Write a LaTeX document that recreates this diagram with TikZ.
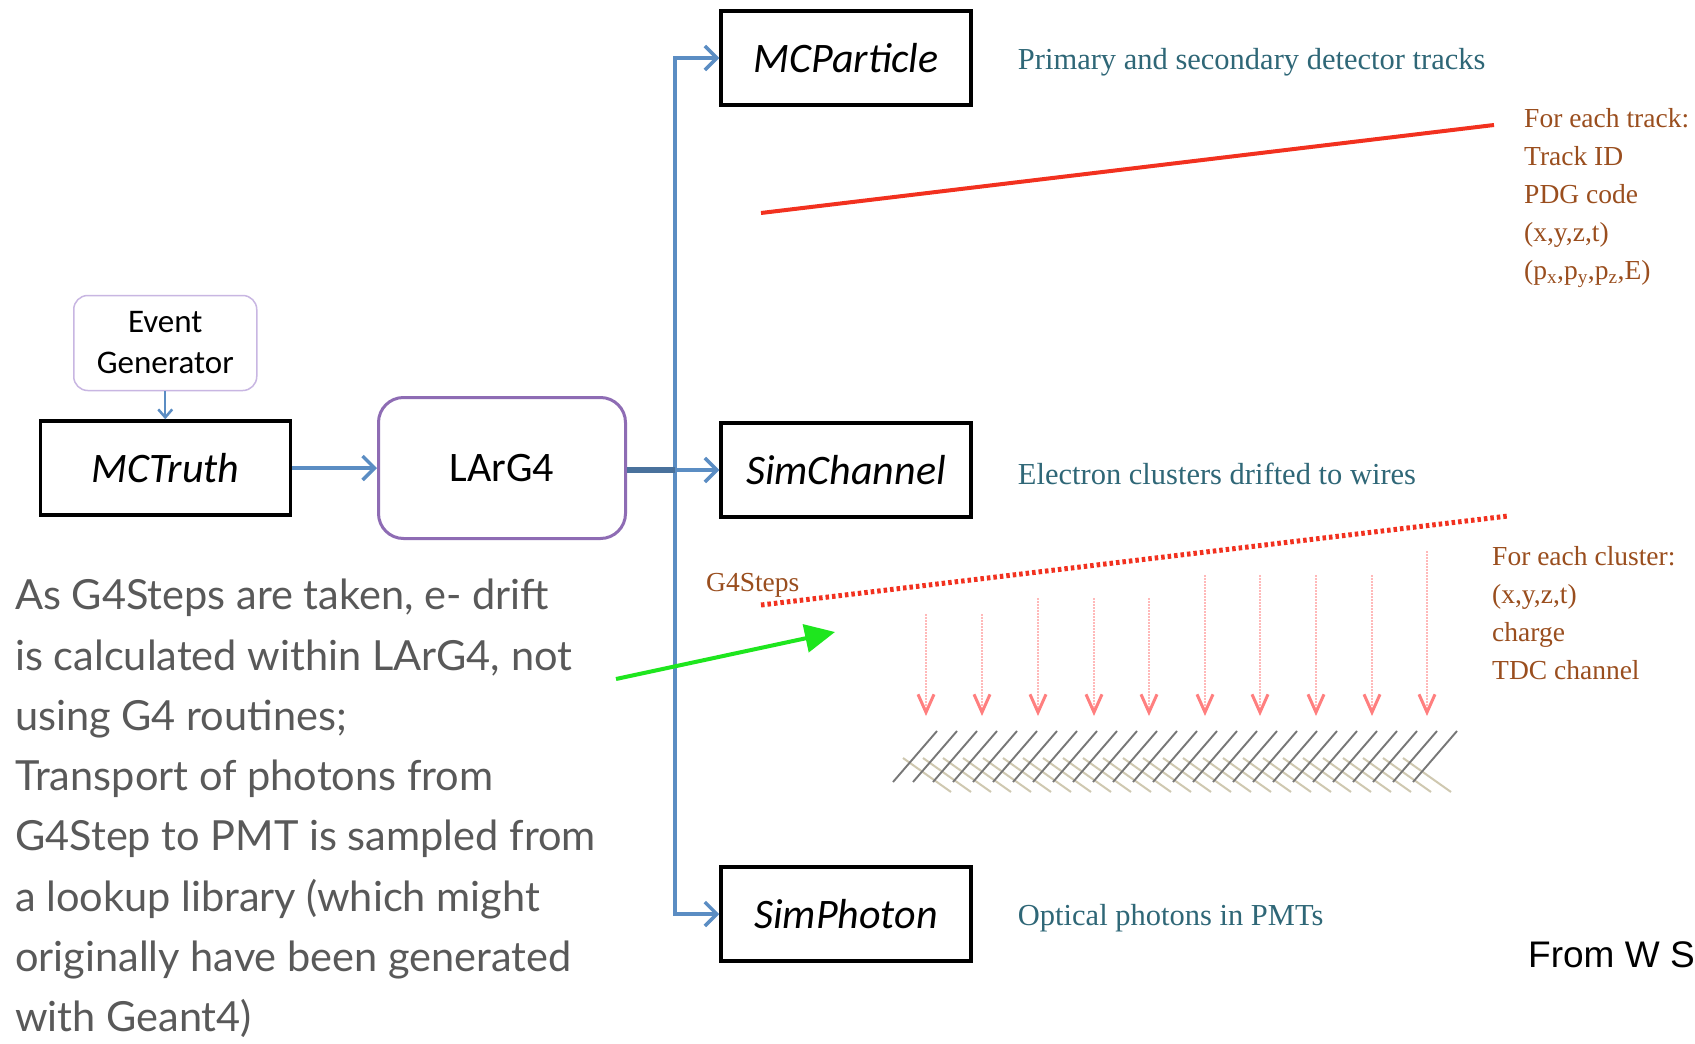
\documentclass[tikz,border=0pt]{standalone}
\usepackage{fontspec}
\setmainfont{Liberation Serif}
\newfontfamily\calfont{Carlito}
\newfontfamily\latofont{Lato}
\newfontfamily\arialfont{Liberation Sans}
\usetikzlibrary{arrows.meta,positioning}

\definecolor{flowblue}{HTML}{5B8DC3}
\definecolor{genpurple}{HTML}{C8B6E2}
\definecolor{g4purple}{HTML}{8E6CB4}
\definecolor{noteteal}{HTML}{2F6777}
\definecolor{notebrown}{HTML}{9A4E1E}
\definecolor{trackred}{HTML}{F2311F}
\definecolor{driftred}{HTML}{FF7F7F}
\definecolor{wiregray}{HTML}{777777}
\definecolor{wiretan}{HTML}{CFC8B0}
\definecolor{hintgreen}{HTML}{1EE61E}
\definecolor{textgray}{HTML}{595959}

\begin{document}
\begin{tikzpicture}[
        x=1pt, y=-1pt,
        product/.style={rectangle, draw, line width=3.5pt, minimum width=250pt, minimum height=94pt, font=\fontsize{42}{48}\selectfont\calfont\itshape},
        module/.style={rectangle, draw=g4purple, rounded corners=25pt, line width=3pt, minimum width=247pt, minimum height=141pt, font=\fontsize{42}{48}\selectfont\calfont},
        generator/.style={rectangle, draw=genpurple, rounded corners=14pt, line width=1.5pt, minimum width=183pt, minimum height=95pt, align=center, font=\fontsize{33}{41}\selectfont\calfont},
        flow/.style={draw=flowblue, line width=4pt, -{Straight Barb[length=12pt,width=24pt,line width=3.5pt]}},
        feed/.style={draw=flowblue, line width=2pt, -{Straight Barb[length=8pt,width=14pt,line width=2.5pt]}},
        note/.style={inner sep=0pt, yshift=-4pt, text=noteteal, font=\fontsize{30.5}{36}\selectfont},
        fields/.style={align=left, anchor=north west, inner sep=0pt, text=notebrown, font=\fontsize{27.5}{38}\selectfont},
        drift/.style={draw=driftred!55, line width=1.2pt, dash pattern=on 2pt off 1pt, -{Straight Barb[length=18pt,width=16pt,line width=3pt,color=driftred]}},
        hint/.style={draw=hintgreen, line width=4pt, -{Triangle[length=30pt,width=28pt]}}
    ]
    \path[use as bounding box, fill=white] (0,0) rectangle (1695,1044);

    % Simulation chain
    \node [module] (larg4) at (502,468) {LArG4};
    \node [product, left=85pt of larg4] (mctruth) {MCTruth};
    \node [generator, above=28pt of mctruth] (evgen) {Event\\Generator};

    % Data products written by LArG4
    \node [product] (mcparticle) at (846,58) {MCParticle};
    \node [product] (simchannel) at (846,470) {SimChannel};
    \node [product] (simphoton) at (846,914) {SimPhoton};

    \node [note, right=45pt of mcparticle] {Primary and secondary detector tracks};
    \node [note, right=45pt of simchannel] {Electron clusters drifted to wires};
    \node [note, right=45pt of simphoton] {Optical photons in PMTs};

    % Arrows
    \coordinate (split) at (675,470);
    \path [feed] (evgen) -- (mctruth);
    \path [flow] (mctruth) -- (larg4);
    \path [flow] (split) |- (mcparticle.west);
    \path [flow] (split) |- (simphoton.west);
    \path [flow] (larg4.east |- split) -- (simchannel.west);
    \draw [flowblue!80!black, line width=5.5pt] (larg4.east |- split) -- (split);

    % Track sketch
    \draw [trackred, line width=4pt] (761,213) -- (1494,125);
    \node [fields] (trackinfo) at (1524,108) {For each track:\\Track ID\\PDG code\\(x,y,z,t)\\(p\textsubscript{x},p\textsubscript{y},p\textsubscript{z},E)};

    % G4 steps, drift and wire planes
    \draw [trackred, line width=5pt, dash pattern=on 3.5pt off 3pt] (761,605) -- (1508,516);
    \node [anchor=west, inner sep=0pt, text=notebrown, font=\fontsize{27.5}{32}\selectfont] (steps) at (706,585) {G4Steps};
    \foreach \x/\t in {926/614, 982/614, 1038/598, 1094/598, 1149/598, 1205/575, 1260/575, 1316/575, 1372/575, 1427/551}
        \draw [drift] (\x,\t) -- (\x,716);
    \foreach \i in {0,...,25}
        \draw [wiretan, line width=2pt] ({903+20*\i},758) -- ++(48,34);
    \foreach \i in {0,...,26}
        \draw [wiregray, line width=1.9pt] ({893+20*\i},782) -- ++(44,-51);
    \node [fields] (clusterinfo) at (1492,546) {For each cluster:\\(x,y,z,t)\\charge\\TDC channel};

    % Comment on the drift calculation
    \node [align=left, anchor=north west, inner sep=0pt, text=textgray, font=\fontsize{41.5}{60.3}\selectfont\latofont] (remark) at (15,579) {As G4Steps are taken, e- drift\\is calculated within LArG4, not\\using G4 routines;\\Transport of photons from\\G4Step to PMT is sampled from\\a lookup library (which might\\originally have been generated\\with Geant4)};
    \coordinate (hintstart) at (616,679);
    \coordinate (hintend) at (835,632);
    \path [hint] (hintstart) -- (hintend);

    \node [anchor=west, inner sep=0pt, font=\fontsize{37}{44}\selectfont\arialfont] (credit) at (1528,955) {From W S};
\end{tikzpicture}
\end{document}
